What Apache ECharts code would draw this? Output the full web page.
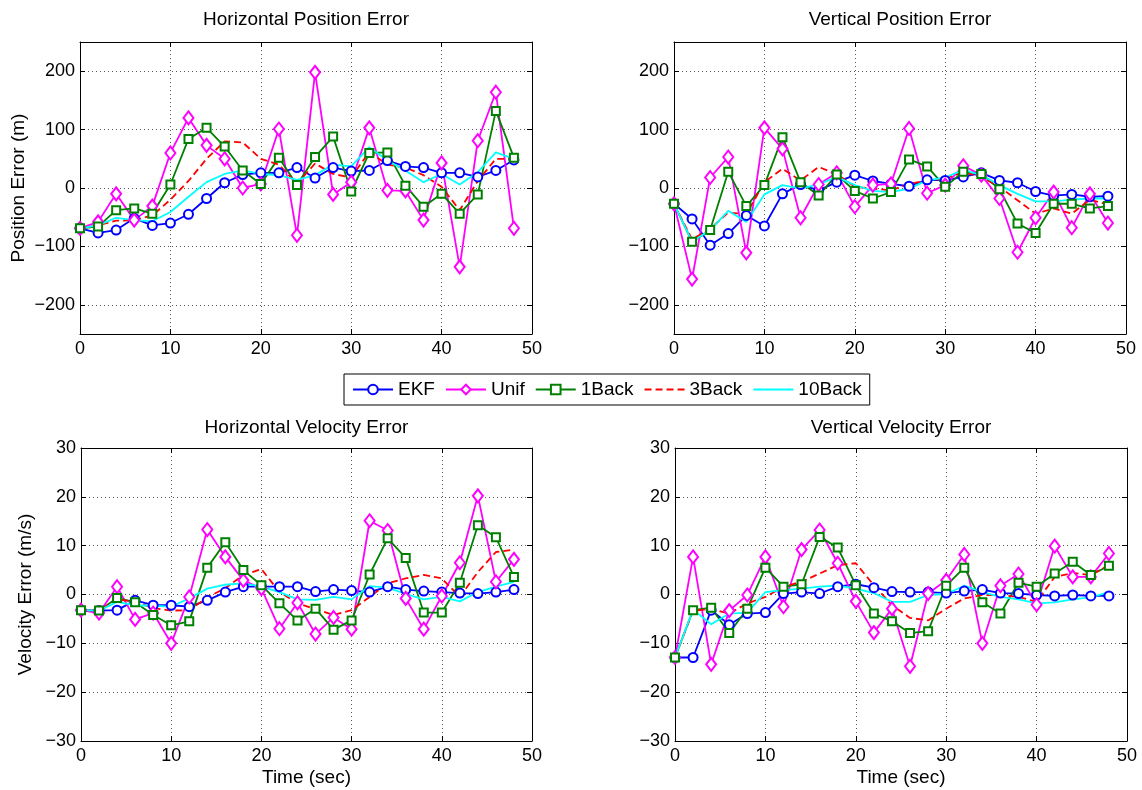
<!DOCTYPE html>
<html><head><meta charset="utf-8">
<script src="https://cdn.jsdelivr.net/npm/echarts@6/dist/echarts.min.js"></script>
<style>html,body{margin:0;padding:0;background:#fff}#c{width:1142px;height:790px}</style>
</head><body><div id="c"></div>
<script>
const times = [0,2,4,6,8,10,12,14,16,18,20,22,24,26,28,30,32,34,36,38,40,42,44,46,48];
const seriesNames = ['EKF','Unif','1Back','3Back','10Back'];
const panelTitles = ['Horizontal Position Error','Vertical Position Error','Horizontal Velocity Error','Vertical Velocity Error'];
const posTicks = [-200,-100,0,100,200];

// Horizontal Position Error (m)
const hposEKF   = [-69,-77,-72,-52,-64,-60,-45,-18,9,23,26,26,35,17,35,29,30,47,37,35,26,26,19,30,48];
const hposUnif  = [-69,-58,-10,-55,-31,60,120,73,50,0,7,101,-81,198,-11,10,103,-4,-5,-55,43,-135,81,164,-69];
const hpos1Back = [-69,-66,-38,-35,-44,6,84,103,71,30,7,52,5,53,88,-6,60,61,4,-32,-10,-44,-11,132,52];
const hpos3Back = [-69,-64,-56,-55,-47,-20,12,50,80,78,50,40,7,42,24,18,62,40,35,22,2,-38,12,50,50];
const hpos10Back= [-69,-64,-51,-55,-57,-41,-15,10,24,30,24,22,14,22,40,37,70,47,30,10,24,6,27,61,50];

// Vertical Position Error (m)
const vposEKF   = [-27,-53,-98,-78,-47,-65,-10,6,-4,10,22,12,7,3,14,13,19,26,13,9,-6,-13,-11,-15,-14];
const vposUnif  = [-27,-156,18,53,-111,103,67,-51,6,26,-32,5,7,102,-9,5,38,22,-18,-110,-51,-7,-68,-10,-60];
const vpos1Back = [-27,-92,-72,28,-31,5,87,10,-13,23,-5,-18,-7,49,37,2,28,24,-2,-61,-77,-27,-27,-35,-31];
const vpos3Back = [-27,-88,-70,-42,-45,10,33,13,36,24,2,-1,-4,7,13,16,27,19,2,-21,-44,-35,-44,-20,-28];
const vpos10Back= [-27,-92,-72,-39,-58,-11,5,-1,6,19,5,-5,-7,-1,13,18,31,22,5,-10,-23,-23,-20,-18,-18];

// Horizontal Velocity Error (m/s)
const hvelEKF   = [-3.2,-3.3,-3.2,-1.2,-2.2,-2.2,-2.5,-1.2,0.5,1.6,1.6,1.6,1.6,0.6,1.0,0.8,0.5,1.6,1.0,0.7,0.5,0.3,0.2,0.5,1.0];
const hvelUnif  = [-3.2,-3.8,1.6,-5.1,-3.8,-10,-0.5,13.3,7.7,2.9,1.2,-7,-1.7,-8.1,-4.7,-7.1,15.1,13.1,-0.8,-7.1,-0.3,6.5,20.2,2.6,7.2];
const hvel1Back = [-3.2,-3.3,-0.7,-1.6,-4.2,-6.3,-5.5,5.5,10.7,5.0,1.9,-1.8,-5.3,-2.9,-7.2,-5.3,4.1,11.5,7.5,-3.7,-3.7,2.4,14.2,11.7,3.6];
const hvel3Back = [-3.2,-3.3,-1.0,-1.5,-2.8,-3.3,-3.2,-0.6,1.3,4.0,5.2,0.5,-1.8,-3.0,-4.2,-3.2,-0.5,2.3,3.3,4.0,3.3,-0.5,4.6,8.7,9.2];
const hvel10Back= [-3.2,-3.3,-1.5,-2.2,-2.3,-2.5,-0.8,1.2,2.0,2.3,1.6,0.5,-1.0,-1.1,-0.5,-1.0,1.7,1.4,0.1,-1.0,-0.5,-1.4,0.5,1.6,2.6];

// Vertical Velocity Error (m/s)
const vvelEKF   = [-12.9,-12.9,-3.2,-6.2,-3.9,-3.7,0.2,0.5,0.2,1.6,2.1,1.4,0.6,0.5,0.5,0.3,0.7,1.0,0.3,0.2,-0.1,-0.3,-0.1,-0.3,-0.3];
const vvelUnif  = [-12.9,7.7,-14.3,-3.3,-0.1,7.7,-2.5,9.2,13.2,6.4,-1.4,-7.8,-2.9,-14.7,0.2,2.9,8.2,-10.0,1.8,4.2,-2.1,9.9,3.6,3.6,8.4];
const vvel1Back = [-12.9,-3.2,-2.7,-7.9,-2.9,5.5,1.6,2.1,11.8,9.6,1.9,-3.9,-5.5,-7.9,-7.5,1.8,5.5,-1.6,-3.9,2.4,1.6,4.3,6.7,4.0,5.9];
const vvel3Back = [-12.9,-3.3,-3.0,-3.9,-1.8,-0.5,1.6,2.6,4.3,6.0,6.4,1.9,-2.2,-4.8,-5.3,-2.9,-0.8,-0.1,-0.1,-0.5,-1.5,3.6,4.4,4.0,6.0];
const vvel10Back= [-12.9,-3.1,-6.1,-3.9,-3.7,0.5,0.9,1.2,1.6,1.8,1.2,0.3,-1.5,-1.5,-0.1,0.1,1.8,0.5,-0.5,-1.0,-1.8,-1.6,-1.0,-0.6,0.5];

const panels = [
  [hposEKF,hposUnif,hpos1Back,hpos3Back,hpos10Back],
  [vposEKF,vposUnif,vpos1Back,vpos3Back,vpos10Back],
  [hvelEKF,hvelUnif,hvel1Back,hvel3Back,hvel10Back],
  [vvelEKF,vvelUnif,vvel1Back,vvel3Back,vvel10Back]
];

const FONT = '"Liberation Sans", Arial, Helvetica, sans-serif';
const minus = v => String(v).replace('-', '\u2212');

const grids = [
  {left: 80, top: 42, width: 452, height: 292},
  {left: 674, top: 42, width: 452, height: 292},
  {left: 81, top: 448, width: 451, height: 293},
  {left: 675, top: 448, width: 452, height: 293}
];

const styles = [
  {color:'#0000ff', symbol:'emptyCircle', symbolSize: 9, type:'solid'},
  {color:'#ff00ff', symbol:'emptyDiamond', symbolSize: [10,13], type:'solid'},
  {color:'#008000', symbol:'emptyRect', symbolSize: 8, type:'solid'},
  {color:'#ff0000', symbol:'none', symbolSize: 0, type:[7,4]},
  {color:'#00ffff', symbol:'none', symbolSize: 0, type:'solid'}
];

const gridLine = {show: true, lineStyle: {color: '#555', width: 1, type: [1, 3]}};
const axLine = {show: true, onZero: false, lineStyle: {color: '#000', width: 1}};
const tick = {show: true, inside: true, length: 5, lineStyle: {color: '#000'}};
const labelStyle = {color: '#000', fontSize: 18, fontFamily: FONT};

const xAxes = [], yAxes = [], series = [], titles = [];
for (let g = 0; g < 4; g++) {
  const isPos = g < 2;
  const bottom = g >= 2;
  xAxes.push({
    type: 'value', gridIndex: g, min: 0, max: 50, interval: 10, position: 'bottom',
    axisLine: axLine, axisTick: tick, splitLine: gridLine,
    axisLabel: Object.assign({margin: 6, formatter: minus}, labelStyle),
    name: bottom ? 'Time (sec)' : '', nameLocation: 'middle', nameGap: 27,
    nameTextStyle: {color: '#000', fontSize: 19, fontFamily: FONT}
  });
  xAxes.push({
    type: 'value', gridIndex: g, min: 0, max: 50, interval: 10, position: 'top',
    axisLine: axLine, axisTick: tick, splitLine: {show: false}, axisLabel: {show: false}
  });
  const yBase = isPos
    ? {min: -250, max: 250, interval: 50}
    : {min: -30, max: 30, interval: 10};
  const leftY = Object.assign({
    type: 'value', gridIndex: g, position: 'left',
    axisLine: axLine,
    axisTick: Object.assign({}, tick, isPos ? {customValues: posTicks} : {}),
    splitLine: gridLine,
    axisLabel: Object.assign({margin: 5, formatter: minus}, labelStyle, isPos ? {customValues: posTicks} : {}),
    name: (g === 0) ? 'Position Error (m)' : (g === 2 ? 'Velocity Error (m/s)' : ''),
    nameLocation: 'middle', nameGap: g === 0 ? 52 : 46,
    nameTextStyle: {color: '#000', fontSize: 19, fontFamily: FONT}
  }, yBase);
  yAxes.push(leftY);
  yAxes.push(Object.assign({
    type: 'value', gridIndex: g, position: 'right',
    axisLine: axLine,
    axisTick: Object.assign({}, tick, isPos ? {customValues: posTicks} : {}),
    splitLine: {show: false}, axisLabel: {show: false}
  }, yBase));
  titles.push({
    text: panelTitles[g], left: (grids[g].left + grids[g].width / 2), textAlign: 'center',
    top: g < 2 ? 10 : 418, padding: 0,
    textStyle: {color: '#000', fontSize: 19, fontWeight: 'normal', fontFamily: FONT}
  });
  for (let s = 0; s < 5; s++) {
    const st = styles[s];
    series.push({
      name: seriesNames[s], type: 'line', xAxisIndex: g * 2, yAxisIndex: g * 2,
      data: times.map((t, i) => [t, panels[g][s][i]]),
      symbol: st.symbol, symbolSize: st.symbolSize, showSymbol: st.symbol !== 'none',
      lineStyle: {color: st.color, width: 1.8, type: st.type},
      itemStyle: {color: st.color, borderColor: st.color, borderWidth: 1.6},
      emphasis: {disabled: true}, silent: true, clip: false
    });
  }
}

const legendData = seriesNames.map((n, i) =>
  styles[i].symbol === 'none' ? {name: n, itemStyle: {opacity: 0}} : {name: n});

const chart = echarts.init(document.getElementById('c'), null, {renderer: 'canvas'});
chart.setOption({
  animation: false,
  backgroundColor: '#fff',
  title: titles,
  grid: grids,
  legend: {
    data: legendData, left: 344, top: 374, orient: 'horizontal',
    itemWidth: 40, itemHeight: 12, itemGap: 10, padding: [6, 8],
    borderColor: '#000', borderWidth: 1, borderRadius: 0, backgroundColor: '#fff',
    textStyle: {color: '#000', fontSize: 19, fontFamily: FONT}
  },
  xAxis: xAxes,
  yAxis: yAxes,
  series: series
});
</script></body></html>
